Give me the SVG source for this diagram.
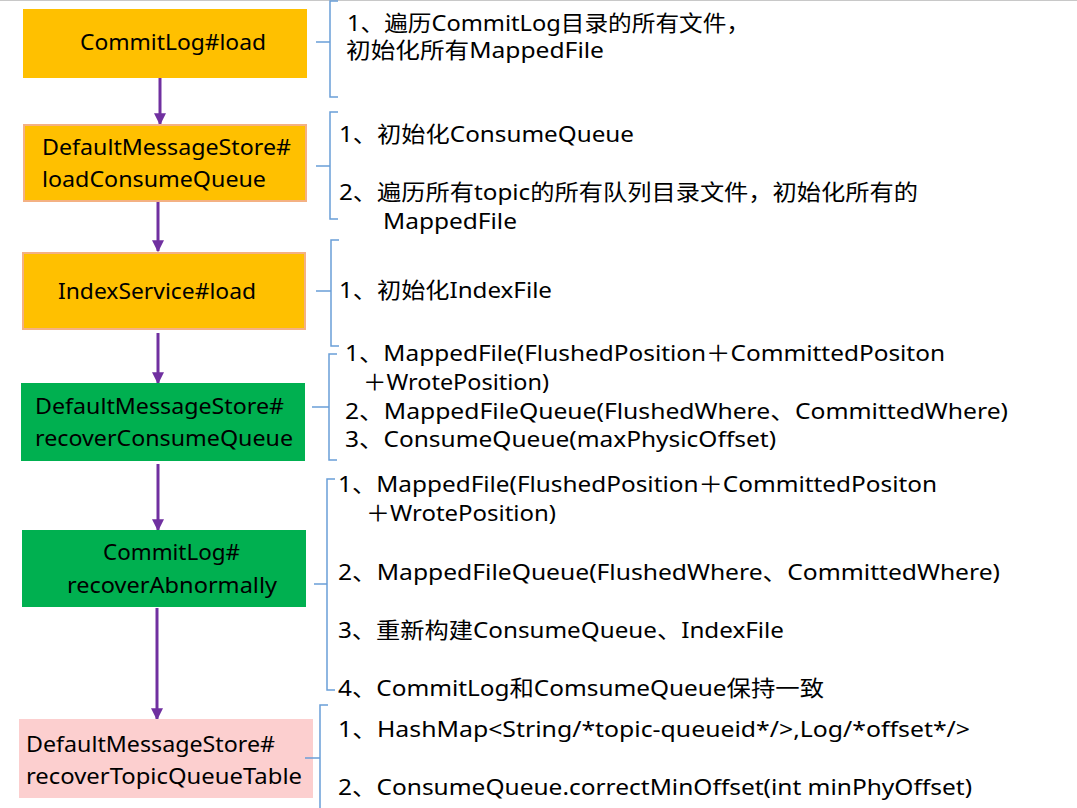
<svg xmlns="http://www.w3.org/2000/svg" width="1077" height="808" viewBox="0 0 1077 808">
<defs>
<style>
text{font-family:"Noto Sans","Noto Sans CJK SC",sans-serif;font-size:22px;fill:#000}
.brace{fill:none;stroke:#6A9FD8;stroke-width:1.5}
.conn{stroke:#7030A0;stroke-width:3;fill:none}
.orange{fill:#FFC000}
.orangeb{fill:#FFC000;stroke:#F4B183;stroke-width:2}
.green{fill:#00B050}
.pink{fill:#FCCFCF}
</style>
<marker id="arr" viewBox="0 0 10 10" refX="9" refY="5" markerWidth="4" markerHeight="4" orient="auto" markerUnits="strokeWidth">
<path d="M0,0 L10,5 L0,10 z" fill="#7030A0"/>
</marker>
</defs>
<rect x="0" y="0" width="1077" height="808" fill="#fff"/>
<line x1="0" y1="0.5" x2="1077" y2="0.5" stroke="#c8c8c8" stroke-width="1"/>

<g id="connectors">
<line class="conn" x1="160" y1="78" x2="160" y2="124" marker-end="url(#arr)"/>
<line class="conn" x1="158" y1="202" x2="158" y2="251" marker-end="url(#arr)"/>
<line class="conn" x1="158" y1="333" x2="158" y2="383" marker-end="url(#arr)"/>
<line class="conn" x1="158" y1="464" x2="158" y2="530" marker-end="url(#arr)"/>
<line class="conn" x1="157" y1="608" x2="157" y2="719" marker-end="url(#arr)"/>
</g>

<g id="node1">
<rect class="orange" x="23" y="9" width="284" height="69"/>
<text x="80" y="50" textLength="186" lengthAdjust="spacingAndGlyphs">CommitLog#load</text>
</g>
<g id="node2">
<rect class="orangeb" x="24" y="125" width="282" height="76"/>
<text x="42" y="155" textLength="249" lengthAdjust="spacingAndGlyphs">DefaultMessageStore#</text>
<text x="42" y="187" textLength="224" lengthAdjust="spacingAndGlyphs">loadConsumeQueue</text>
</g>
<g id="node3">
<rect class="orangeb" x="23" y="253" width="282" height="76"/>
<text x="58" y="299" textLength="198" lengthAdjust="spacingAndGlyphs">IndexService#load</text>
</g>
<g id="node4">
<rect class="green" x="21" y="383" width="284" height="78"/>
<text x="35" y="414" textLength="249" lengthAdjust="spacingAndGlyphs">DefaultMessageStore#</text>
<text x="35" y="446" textLength="258" lengthAdjust="spacingAndGlyphs">recoverConsumeQueue</text>
</g>
<g id="node5">
<rect class="green" x="22" y="530" width="284" height="77"/>
<text x="103" y="560" textLength="137" lengthAdjust="spacingAndGlyphs">CommitLog#</text>
<text x="67" y="593" textLength="210" lengthAdjust="spacingAndGlyphs">recoverAbnormally</text>
</g>
<g id="node6">
<rect class="pink" x="19" y="719" width="294" height="79"/>
<text x="26" y="752" textLength="249" lengthAdjust="spacingAndGlyphs">DefaultMessageStore#</text>
<text x="26" y="784" textLength="276" lengthAdjust="spacingAndGlyphs">recoverTopicQueueTable</text>
</g>

<g id="braces">
<path class="brace" d="M338,1 L330,1 L330,42 L316,42 M330,42 L330,97 L338,97"/>
<path class="brace" d="M338,112 L330,112 L330,166 L316,166 M330,166 L330,219 L338,219"/>
<path class="brace" d="M339,240 L331,240 L331,291 L316,291 M331,291 L331,346 L339,346"/>
<path class="brace" d="M337,354 L329,354 L329,407 L312,407 M329,407 L329,460 L337,460"/>
<path class="brace" d="M335,479 L327,479 L327,584 L314,584 M327,584 L327,690 L335,690"/>
<path class="brace" d="M328,705 L320,705 L320,758 L305,758 M320,758 L320,808"/>
</g>

<g id="notes1">
<text x="347" y="31" textLength="403" lengthAdjust="spacingAndGlyphs">1、遍历CommitLog目录的所有文件，</text>
<text x="346" y="58" textLength="258" lengthAdjust="spacingAndGlyphs">初始化所有MappedFile</text>
</g>
<g id="notes2">
<text x="339" y="142" textLength="295" lengthAdjust="spacingAndGlyphs">1、初始化ConsumeQueue</text>
<text x="339" y="200" textLength="579" lengthAdjust="spacingAndGlyphs">2、遍历所有topic的所有队列目录文件，初始化所有的</text>
<text x="383" y="229" textLength="134" lengthAdjust="spacingAndGlyphs">MappedFile</text>
</g>
<g id="notes3">
<text x="339" y="298" textLength="213" lengthAdjust="spacingAndGlyphs">1、初始化IndexFile</text>
</g>
<g id="notes4">
<text x="345" y="361" textLength="600" lengthAdjust="spacingAndGlyphs">1、MappedFile(FlushedPosition＋CommittedPositon</text>
<text x="363" y="390" textLength="186" lengthAdjust="spacingAndGlyphs">＋WrotePosition)</text>
<text x="345" y="419" textLength="663" lengthAdjust="spacingAndGlyphs">2、MappedFileQueue(FlushedWhere、CommittedWhere)</text>
<text x="345" y="447" textLength="431" lengthAdjust="spacingAndGlyphs">3、ConsumeQueue(maxPhysicOffset)</text>
</g>
<g id="notes5">
<text x="338" y="492" textLength="599" lengthAdjust="spacingAndGlyphs">1、MappedFile(FlushedPosition＋CommittedPositon</text>
<text x="366" y="521" textLength="190" lengthAdjust="spacingAndGlyphs">＋WrotePosition)</text>
<text x="338" y="580" textLength="662" lengthAdjust="spacingAndGlyphs">2、MappedFileQueue(FlushedWhere、CommittedWhere)</text>
<text x="338" y="638" textLength="446" lengthAdjust="spacingAndGlyphs">3、重新构建ConsumeQueue、IndexFile</text>
<text x="338" y="696" textLength="486" lengthAdjust="spacingAndGlyphs">4、CommitLog和ComsumeQueue保持一致</text>
</g>
<g id="notes6">
<text x="338" y="737" textLength="632" lengthAdjust="spacingAndGlyphs">1、HashMap&lt;String/*topic-queueid*/&gt;,Log/*offset*/&gt;</text>
<text x="338" y="795" textLength="634" lengthAdjust="spacingAndGlyphs">2、ConsumeQueue.correctMinOffset(int minPhyOffset)</text>
</g>
</svg>
